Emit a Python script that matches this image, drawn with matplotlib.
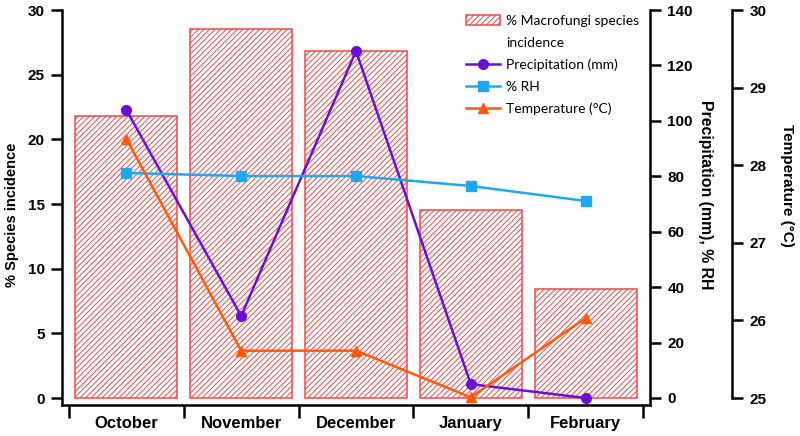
import numpy as np
import matplotlib
matplotlib.use("Agg")
import matplotlib.pyplot as plt
from matplotlib.lines import Line2D

months = ["October", "November", "December", "January", "February"]
incidence = [21.8, 28.5, 26.8, 14.5, 8.4]
precip = [103.9, 29.6, 125.2, 5.0, 0.0]
rh = [81.2, 80.1, 80.1, 76.5, 71.1]
temp = [28.34, 25.61, 25.61, 25.01, 26.03]

plt.rcParams['font.family'] = ['Liberation Sans', 'DejaVu Sans']
plt.rcParams['hatch.color'] = '#f28080'
plt.rcParams['hatch.linewidth'] = 0.7

W, H = 800, 436
fig = plt.figure(figsize=(8, 4.36), dpi=100)
ax = fig.add_axes([62 / W, 31 / H, 588 / W, 395 / H])
ax2 = ax.twinx()
ax3 = ax.twinx()

x = np.arange(len(months))
bars = ax.bar(x, incidence, width=0.89, facecolor='white', edgecolor='#f04848',
              hatch='//////', linewidth=1.1)

l1, = ax2.plot(x, precip, color='#6a0fd8', lw=1.8, marker='o', ms=7)
l2, = ax2.plot(x, rh, color='#1ea8f0', lw=1.8, marker='s', ms=7)
l3, = ax3.plot(x, temp, color='#ff5a0a', lw=1.8, marker='^', ms=7)

ax.set_xlim(-0.561, 4.561)
ax.set_ylim(-0.541, 30)
ax2.set_ylim(-2.526, 140)
ax3.set_ylim(24.91, 30)

lw = 1.8
for a in (ax, ax2, ax3):
    a.spines['top'].set_visible(False)
    for s in a.spines.values():
        s.set_linewidth(lw)

ax.spines['right'].set_visible(False)
ax2.spines['left'].set_visible(False)
ax2.spines['bottom'].set_visible(False)
ax3.spines['left'].set_visible(False)
ax3.spines['bottom'].set_visible(False)
ax3.spines['right'].set_position(('axes', 1 + 82 / 588))
ax3.spines['right'].set_bounds(25, 30)

ax.set_yticks(np.arange(0, 31, 5))
ax2.set_yticks(np.arange(0, 141, 20))
ax3.set_yticks(np.arange(25, 31, 1))

ax.set_xticks(np.arange(-0.5, 5, 1))
ax.set_xticklabels([])
ax.set_xticks(x, minor=True)
ax.set_xticklabels(months, minor=True, fontweight='bold', fontsize=12)
ax.tick_params(axis='x', which='major', direction='out', length=9, width=lw)
ax.tick_params(axis='x', which='minor', length=0, pad=8)

for a in (ax, ax2, ax3):
    a.tick_params(axis='y', direction='out', length=8, width=lw, labelsize=11,
                  pad=4.5)
    for t in a.get_yticklabels():
        t.set_fontweight('bold')

fig.text(12 / W, 1 - 215 / H, '% Species incidence', fontsize=10.5,
         fontweight='bold', rotation=90, ha='center', va='center')
fig.text(705 / W, 1 - 195 / H, 'Precipitation (mm), % RH', fontsize=11.4,
         fontweight='bold', rotation=270, ha='center', va='center')
fig.text(787 / W, 1 - 185 / H, 'Temperature (\u00b0C)', fontsize=11,
         fontweight='bold', rotation=270, ha='center', va='center')

blank = Line2D([], [], color='none')
handles = [bars.patches[0], blank, l1, l2, l3]
labels = ['% Macrofungi species', 'incidence', 'Precipitation (mm)', '% RH',
          'Temperature (\u00b0C)']
leg = ax3.legend(handles, labels, loc='upper left', frameon=False,
                 bbox_to_anchor=(466 / W, 1 - 15 / H),
                 bbox_transform=fig.transFigure,
                 prop={'family': 'Lato', 'size': 10}, handlelength=2.45,
                 handletextpad=0.45, labelspacing=0.7, borderaxespad=0,
                 borderpad=0)

fig.savefig('out.png', dpi=100)
